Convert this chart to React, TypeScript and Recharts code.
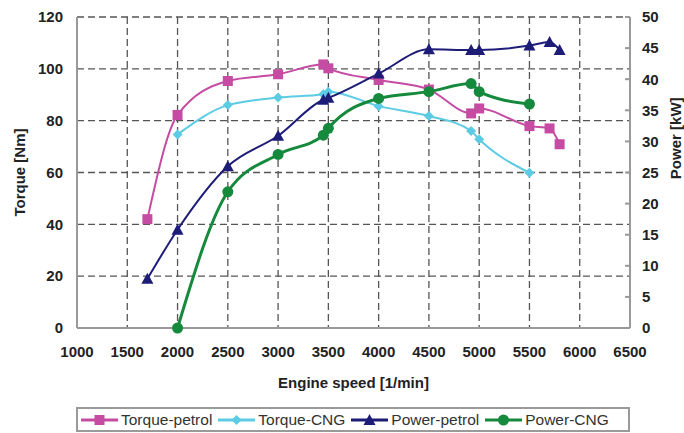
import { LineChart, Line, XAxis, YAxis, CartesianGrid, Legend } from "recharts"

// engine test bench readings
const speedPetrol = [1700, 2000, 2500, 3000, 3450, 3500, 4000, 4500, 4920, 5000, 5500, 5700, 5800]
const torquePetrol = [42, 82.2, 95.3, 97.9, 101.7, 100.2, 95.7, 92, 82.8, 84.7, 77.9, 77, 70.9]
const powerPetrol = [7.9, 15.8, 26, 30.9, 36.7, 37, 40.9, 44.8, 44.7, 44.7, 45.4, 46, 44.7]

const speedCng = [2000, 2500, 3000, 3450, 3500, 4000, 4500, 4920, 5000, 5500]
const torqueCng = [74.7, 86, 88.9, 90.2, 91.2, 85.6, 81.8, 76, 72.8, 59.9]
const powerCng = [0, 21.9, 27.9, 31, 32.1, 36.9, 38, 39.3, 38, 36]

const speedTicks = [1000, 1500, 2000, 2500, 3000, 3500, 4000, 4500, 5000, 5500, 6000, 6500]
const torqueTicks = [0, 20, 40, 60, 80, 100, 120]
const powerTicks = [0, 5, 10, 15, 20, 25, 30, 35, 40, 45, 50]

type Shape = "square" | "diamond" | "triangle" | "circle"

const toPoints = (xs: number[], ys: number[]) => xs.map((x, i) => ({ x, y: ys[i] }))

const series = [
  { name: "Torque-petrol", color: "#c54ba3", shape: "square" as Shape, axis: "left", width: 2, data: toPoints(speedPetrol, torquePetrol) },
  { name: "Torque-CNG", color: "#5ccbe4", shape: "diamond" as Shape, axis: "left", width: 2, data: toPoints(speedCng, torqueCng) },
  { name: "Power-petrol", color: "#1d1d78", shape: "triangle" as Shape, axis: "right", width: 2, data: toPoints(speedPetrol, powerPetrol) },
  { name: "Power-CNG", color: "#15893c", shape: "circle" as Shape, axis: "right", width: 3, data: toPoints(speedCng, powerCng) },
]

function Marker({ cx, cy, shape, color }: { cx: number; cy: number; shape: Shape; color: string }) {
  if (cx == null || cy == null) return null
  if (shape === "square") return <rect x={cx - 5} y={cy - 5} width={10} height={10} fill={color} />
  if (shape === "diamond") return <path d={`M${cx},${cy - 5}L${cx + 5},${cy}L${cx},${cy + 5}L${cx - 5},${cy}Z`} fill={color} />
  if (shape === "triangle") return <path d={`M${cx},${cy - 6}L${cx + 6},${cy + 5}L${cx - 6},${cy + 5}Z`} fill={color} />
  return <circle cx={cx} cy={cy} r={5.5} fill={color} />
}

function LegendBox() {
  return (
    <div style={{ height: 32, paddingTop: 6, boxSizing: "border-box" }}>
      <div
        style={{
          height: 25,
          boxSizing: "border-box",
          border: "2px solid #9a9a9a",
          display: "flex",
          alignItems: "center",
          paddingLeft: 3,
          fontSize: 15.5,
          color: "#333",
          whiteSpace: "nowrap",
          overflow: "hidden",
          fontFamily: "Liberation Sans, Arial, sans-serif",
        }}
      >
        {series.map((s) => (
          <div key={s.name} style={{ display: "flex", alignItems: "center", marginRight: 6, flexShrink: 0 }}>
            <svg width={37} height={14} style={{ marginRight: 3 }}>
              <line x1={0} y1={7} x2={37} y2={7} stroke={s.color} strokeWidth={3} />
              <Marker cx={18.5} cy={7} shape={s.shape} color={s.color} />
            </svg>
            <span>{s.name}</span>
          </div>
        ))}
      </div>
    </div>
  )
}

function PowerLabel(props: any) {
  const vb = props.viewBox || {}
  const x = vb.x + vb.width - 8
  const y = vb.y + vb.height * 0.39
  return (
    <text
      x={x}
      y={y}
      transform={`rotate(-90 ${x} ${y})`}
      textAnchor="middle"
      dominantBaseline="central"
      fontSize={15}
      fontWeight="bold"
      fill="#222"
    >
      Power [kW]
    </text>
  )
}

const tickStyle = { fill: "#222", fontSize: 15, fontWeight: "bold" }

export default function App() {
  return (
    <div style={{ position: "absolute", left: 0, top: 0 }}>
      <LineChart
        width={684}
        height={433}
        margin={{ top: 17, right: 0, bottom: 0, left: 0 }}
        style={{ fontFamily: "Liberation Sans, Arial, sans-serif" }}
      >
        <CartesianGrid yAxisId="left" stroke="#555" strokeWidth={1.3} strokeDasharray="7 4" />
        <XAxis
          dataKey="x"
          type="number"
          domain={[1000, 6500]}
          ticks={speedTicks}
          height={73}
          tickLine={false}
          tickMargin={12}
          tick={tickStyle}
          axisLine={{ stroke: "#999", strokeWidth: 2 }}
          allowDuplicatedCategory={false}
          label={{ value: "Engine speed [1/min]", position: "insideBottom", offset: 13, fontSize: 15, fontWeight: "bold", fill: "#222" }}
        />
        <YAxis
          yAxisId="left"
          domain={[0, 120]}
          ticks={torqueTicks}
          width={77}
          tickLine={false}
          tickMargin={8}
          tick={tickStyle}
          axisLine={{ stroke: "#999", strokeWidth: 2 }}
          label={{
            value: "Torque [Nm]",
            angle: -90,
            position: "insideLeft",
            offset: 20,
            fontSize: 15,
            fontWeight: "bold",
            fill: "#222",
            style: { textAnchor: "middle" },
          }}
        />
        <YAxis
          yAxisId="right"
          orientation="right"
          domain={[0, 50]}
          ticks={powerTicks}
          width={54}
          tickSize={-5}
          tickMargin={17}
          tick={tickStyle}
          tickLine={{ stroke: "#999", strokeWidth: 2 }}
          axisLine={{ stroke: "#999", strokeWidth: 2 }}
          label={<PowerLabel />}
        />
        {series.map((s) => (
          <Line
            key={s.name}
            name={s.name}
            data={s.data}
            dataKey="y"
            yAxisId={s.axis}
            type="monotone"
            stroke={s.color}
            strokeWidth={s.width}
            isAnimationActive={false}
            dot={(p: any) => <Marker key={p.index} cx={p.cx} cy={p.cy} shape={s.shape} color={s.color} />}
            activeDot={false}
          />
        ))}
        <Legend verticalAlign="bottom" wrapperStyle={{ left: 76, width: 554, bottom: 0 }} content={() => <LegendBox />} />
      </LineChart>
    </div>
  )
}
